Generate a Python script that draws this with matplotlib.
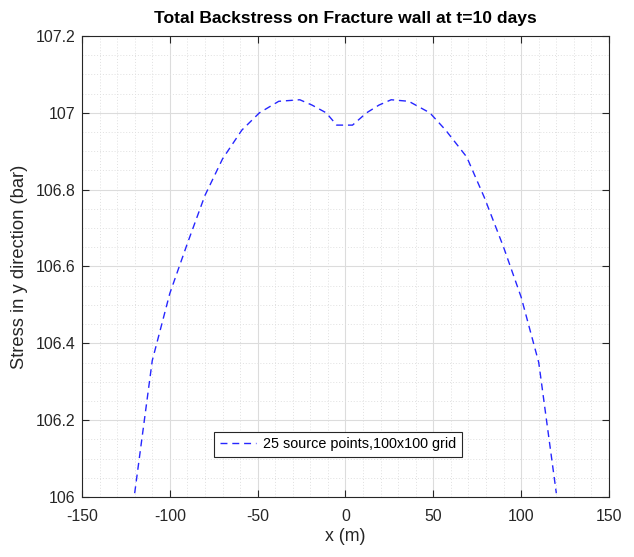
import matplotlib
matplotlib.use('Agg')
import matplotlib.pyplot as plt
from matplotlib.ticker import MultipleLocator, FuncFormatter

plt.rcParams.update({
    'font.family': 'Liberation Sans',
    'axes.unicode_minus': False,
})

# data
x_m = [-120, -110, -100, -90, -80, -70, -59, -49, -38, -26, -19, -11, -5,
       4, 12, 19, 26, 36, 48, 57, 69, 79, 90, 100, 110, 120]
stress_bar = [106.01, 106.355, 106.53, 106.66, 106.785, 106.88, 106.955, 107.0,
              107.03, 107.034, 107.02, 107.0, 106.968,
              106.968, 107.0, 107.02, 107.034, 107.03, 107.0, 106.955, 106.885,
              106.78, 106.65, 106.52, 106.35, 106.01]
series_label = '25 source points,100x100 grid'

fig = plt.figure(figsize=(6.34, 5.57), dpi=100)
ax = fig.add_axes([0.1293, 0.1077, 0.8313, 0.8277])

ax.plot(x_m, stress_bar, color=(0.15, 0.15, 1.0), linestyle=(0, (5, 3.5)),
        linewidth=1.0, label=series_label)

ax.set_xlim(-150, 150)
ax.set_ylim(106, 107.2)
ax.xaxis.set_major_locator(MultipleLocator(50))
ax.xaxis.set_minor_locator(MultipleLocator(10))
ax.yaxis.set_major_locator(MultipleLocator(0.2))
ax.yaxis.set_minor_locator(MultipleLocator(0.05))
ax.yaxis.set_major_formatter(FuncFormatter(lambda v, p: '%g' % round(v, 3)))
ax.xaxis.set_major_formatter(FuncFormatter(lambda v, p: '%g' % v))

# matlab-like grid
ax.grid(True, which='major', color='#dcdcdc', linewidth=0.8)
ax.grid(True, which='minor', color='#e0e0e0', linestyle=(0, (1, 2)), linewidth=0.7)
ax.set_axisbelow(True)

ax.tick_params(which='major', direction='in', length=5, width=0.8,
               top=True, right=True, labelsize=11.4, colors='#262626')
ax.tick_params(axis='x', which='major', pad=8.5)
ax.tick_params(axis='y', which='major', pad=4.5)
ax.tick_params(which='minor', length=0, top=True, right=True)
for s in ax.spines.values():
    s.set_color('#262626')
    s.set_linewidth(0.8)

ax.set_xlabel('x (m)', fontsize=12.8, color='#262626', labelpad=3)
ax.set_ylabel('Stress in y direction (bar)', fontsize=13.2, color='#262626', labelpad=6)
ax.set_title('Total Backstress on Fracture wall at t=10 days', fontsize=12.6,
             fontweight='bold', pad=9)

leg = ax.legend(loc='center', bbox_to_anchor=(0.486, 0.114), fontsize=10.4,
                fancybox=False, framealpha=1, edgecolor='#262626',
                borderpad=0.4, handlelength=2.5, handletextpad=0.5)
leg.get_frame().set_linewidth(0.8)

fig.savefig('out.png', dpi=100)
